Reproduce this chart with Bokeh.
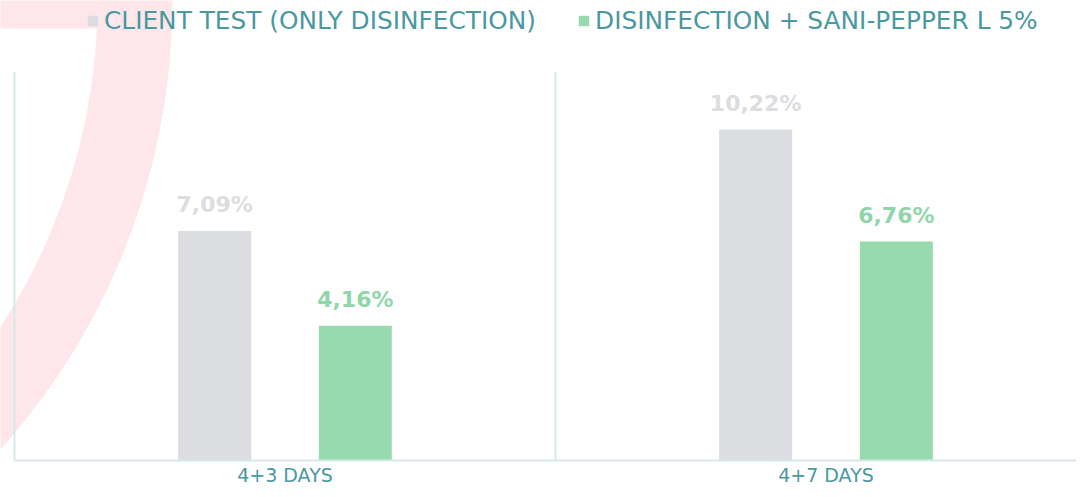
from bokeh.plotting import figure
from bokeh.models import (Range1d, FixedTicker, LabelSet, ColumnDataSource,
                          Legend, LegendItem)
from bokeh.core.properties import value
from bokeh.transform import dodge
from bokeh.embed import file_html
from bokeh.resources import INLINE

# ---- data ----
categories = ["4+3 DAYS", "4+7 DAYS"]
client_test = [7.09, 10.22]
sani_pepper = [4.16, 6.76]
series_names = ["CLIENT TEST (ONLY DISINFECTION)", "DISINFECTION + SANI-PEPPER L 5%"]

# ---- styling ----
GRAY = "#dcdde1"
GREEN = "#97dab0"
GRAY_LBL = "#dcdde1"
GREEN_LBL = "#8fd7a9"
TEAL = "#4a98a0"
LINE = "#d6e9eb"
PINK = "#fde7ea"

PX_X = 541.0     # pixels per category
PX_Y = 32.38     # pixels per percent
W, H = 1076, 489
FRAME_H = 460
Y_TOP = 12.0     # extent of separator lines (percent)

xs = [i + 1 for i in range(len(categories))]
fmt = lambda v: ("%.2f" % v).replace(".", ",") + "%"

src = ColumnDataSource(dict(
    x=xs,
    client=client_test,
    sani=sani_pepper,
    client_lbl=[fmt(v) for v in client_test],
    sani_lbl=[fmt(v) for v in sani_pepper],
))

x_start = 0.5 - 14 / PX_X
x_end = x_start + W / PX_X
y_end = FRAME_H / PX_Y

p = figure(width=W, height=H, x_range=Range1d(x_start, x_end),
           y_range=Range1d(0, y_end), y_axis_location=None,
           output_backend="svg", toolbar_location=None,
           min_border_left=0, min_border_right=0, min_border_top=0,
           min_border_bottom=H - FRAME_H)
p.outline_line_color = None
p.background_fill_color = "white"
p.border_fill_color = "white"
p.grid.visible = False

# decorative pink arc in the background
cx = x_start - 500 / PX_X
cy = y_end
p.annulus(x=[cx], y=[cy], inner_radius=597, outer_radius=672,
          inner_radius_units="screen", outer_radius_units="screen",
          fill_color=PINK, line_color=None, level="image")
p.quad(left=[x_start - 0.05], right=[x_start + 105 / PX_X],
       top=[y_end + 1], bottom=[y_end - 28 / PX_Y],
       fill_color=PINK, line_color=None, level="image")

# vertical separators between categories
bounds = [i + 0.5 for i in range(len(categories) + 1)]
p.segment(x0=bounds, x1=bounds, y0=[0] * len(bounds), y1=[Y_TOP] * len(bounds),
          line_color=LINE, line_width=2, level="underlay")

off = 0.13
bw = 73 / PX_X
r1 = p.vbar(x=dodge("x", -off, range=p.x_range), top="client", width=bw,
            source=src, fill_color=GRAY, line_color=None)
r2 = p.vbar(x=dodge("x", off, range=p.x_range), top="sani", width=bw,
            source=src, fill_color=GREEN, line_color=None)

for col, lbl, color, d in (("client", "client_lbl", GRAY_LBL, -off),
                           ("sani", "sani_lbl", GREEN_LBL, off)):
    p.add_layout(LabelSet(x=dodge("x", d, range=p.x_range), y=col, text=lbl,
                          source=src, y_offset=26, text_align="center",
                          text_baseline="middle", text_font_size="22px",
                          text_font=value("DejaVu Sans"),
                          text_font_style="bold", text_color=color))

# x axis
ax = p.xaxis[0]
ax.ticker = FixedTicker(ticks=xs)
ax.major_label_overrides = {x: c for x, c in zip(xs, categories)}
ax.major_tick_line_color = None
ax.minor_tick_line_color = None
ax.major_tick_out = 0
ax.major_tick_in = 0
ax.minor_tick_out = 0
ax.minor_tick_in = 0
ax.axis_line_color = LINE
ax.axis_line_width = 2
ax.bounds = (0.5, 2.6)
ax.major_label_text_font = "DejaVu Sans"
ax.major_label_text_font_size = "19px"
ax.major_label_text_color = TEAL
ax.major_label_standoff = 3

legend = Legend(items=[LegendItem(label=series_names[0], renderers=[r1]),
                       LegendItem(label=series_names[1], renderers=[r2])],
                orientation="horizontal", location=(86, 425),
                glyph_width=13, glyph_height=13, label_standoff=5,
                spacing=41, padding=0, margin=0,
                border_line_color=None, background_fill_alpha=0,
                label_text_font="DejaVu Sans", label_text_font_size="24.8px",
                label_text_color=TEAL)
p.add_layout(legend)

open("out.html", "w").write(file_html(p, INLINE))
